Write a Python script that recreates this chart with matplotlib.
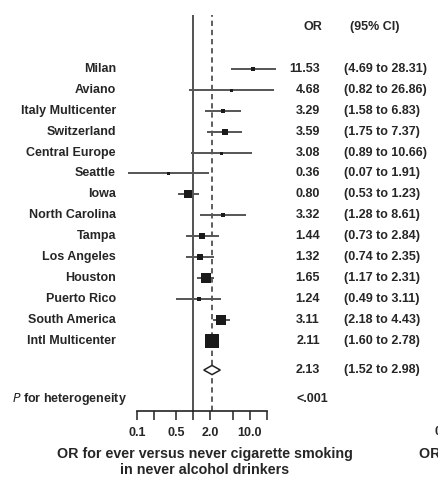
import numpy as np
import matplotlib
matplotlib.use("Agg")
import matplotlib.pyplot as plt
from matplotlib.transforms import blended_transform_factory

# data
studies = ["Milan", "Aviano", "Italy Multicenter", "Switzerland", "Central Europe",
           "Seattle", "Iowa", "North Carolina", "Tampa", "Los Angeles", "Houston",
           "Puerto Rico", "South America", "Intl Multicenter"]
odds = [11.53, 4.68, 3.29, 3.59, 3.08, 0.36, 0.80, 3.32, 1.44, 1.32, 1.65, 1.24, 3.11, 2.11]
ci_low = [4.69, 0.82, 1.58, 1.75, 0.89, 0.07, 0.53, 1.28, 0.73, 0.74, 1.17, 0.49, 2.18, 1.60]
ci_high = [28.31, 26.86, 6.83, 7.37, 10.66, 1.91, 1.23, 8.61, 2.84, 2.35, 2.31, 3.11, 4.43, 2.78]
pooled = 2.13
pooled_low = 1.52
pooled_high = 2.98
p_het = "<.001"
ticks = [0.1, 0.2, 0.5, 1, 2, 5, 10, 20]
tick_labels = ["0.1", "", "0.5", "", "2.0", "", "10.0", ""]

W, H = 439, 478
fig = plt.figure(figsize=(W / 100, H / 100), dpi=100)
plt.rcParams['font.family'] = ['Liberation Sans', 'DejaVu Sans']
txt_col = "#262626"
fs = 9

ax = fig.add_axes([120 / W, (H - 411) / H, 160 / W, (411 - 15) / H])
ax.set_xscale("log")
ax.set_xlim(0.05, 34)
n = len(studies)
pool_row = n + 0.4
het_row = n + 1.8
ax.set_ylim(n + 2.36, -2.58)

rows = np.arange(n)
# inverse variance weights for box size
se = (np.log(ci_high) - np.log(ci_low)) / (2 * 1.96)
w = 1 / se ** 2
side_px = np.maximum(1.85 * np.sqrt(w), 3.0)

ax.axvline(1, color="#444444", lw=1.3, zorder=1)
ax.axvline(pooled, color="#333333", lw=1.1, ls=(0, (3.5, 2.5)), zorder=1)

for i in range(n):
    ax.plot([ci_low[i], ci_high[i]], [rows[i], rows[i]], color="#555555", lw=1.4, zorder=2,
            solid_capstyle="butt")
    ax.plot(odds[i], rows[i], marker="s", color="#1a1a1a", ms=side_px[i] * 0.72,
            mec="#1a1a1a", mew=0, zorder=3)

# pooled diamond
dx = [pooled_low, pooled, pooled_high, pooled, pooled_low]
dy = [pool_row, pool_row - 0.22, pool_row, pool_row + 0.22, pool_row]
ax.fill(dx, dy, facecolor="white", edgecolor="#222222", lw=1.1, zorder=4)

for s in ["top", "right", "left"]:
    ax.spines[s].set_visible(False)
ax.spines["bottom"].set_bounds(0.1, 20)
ax.spines["bottom"].set_color("#222222")
ax.spines["bottom"].set_linewidth(1.2)
ax.set_yticks([])
ax.set_xticks(ticks)
ax.set_xticklabels(tick_labels)
ax.minorticks_off()
ax.tick_params(axis="x", direction="out", length=6.5, width=1.1, color="#222222",
               labelsize=fs, labelcolor=txt_col, pad=5)
for lab in ax.get_xticklabels():
    lab.set_fontweight("bold")

tr = blended_transform_factory(fig.transFigure, ax.transData)
for i in range(n):
    ax.text(116 / W, rows[i], studies[i], transform=tr, ha="right", va="center",
            fontsize=fs, fontweight="bold", color=txt_col)
    ax.text(320 / W, rows[i], "%.2f" % odds[i], transform=tr, ha="right", va="center",
            fontsize=fs, fontweight="bold", color=txt_col)
    ax.text(344 / W, rows[i], "(%.2f to %.2f)" % (ci_low[i], ci_high[i]), transform=tr,
            ha="left", va="center", fontsize=fs, fontweight="bold", color=txt_col)

ax.text(320 / W, pool_row, "%.2f" % pooled, transform=tr, ha="right", va="center",
        fontsize=fs, fontweight="bold", color=txt_col)
ax.text(344 / W, pool_row, "(%.2f to %.2f)" % (pooled_low, pooled_high), transform=tr,
        ha="left", va="center", fontsize=fs, fontweight="bold", color=txt_col)
ax.text(297 / W, het_row, p_het, transform=tr, ha="left", va="center",
        fontsize=fs, fontweight="bold", color=txt_col)
ax.text(12 / W, het_row, r"$\bf{\it{P}}$ for heterogeneity", transform=tr, ha="left",
        va="center", fontsize=fs, fontweight="bold", color=txt_col)

ax.text(313 / W, -2.0, "OR", transform=tr, ha="center", va="center",
        fontsize=fs, fontweight="bold", color=txt_col)
ax.text(350 / W, -2.0, "(95% CI)", transform=tr, ha="left", va="center",
        fontsize=fs, fontweight="bold", color=txt_col)

fig.text(205 / W, 1 - 454 / H, "OR for ever versus never cigarette smoking", ha="center",
         va="center", fontsize=10.3, fontweight="bold", color=txt_col)
fig.text(205 / W, 1 - 470 / H, "in never alcohol drinkers", ha="center",
         va="center", fontsize=10.3, fontweight="bold", color=txt_col)

# edge of the neighbouring panel (cut off, as in the source figure)
fig.text(435 / W, 1 - 432 / H, "0.1", ha="left", va="center", fontsize=fs,
         fontweight="bold", color=txt_col)
fig.text(419 / W, 1 - 454 / H, "OR for", ha="left", va="center", fontsize=10.3,
         fontweight="bold", color=txt_col)

fig.savefig("out.png", dpi=100, facecolor="white")
